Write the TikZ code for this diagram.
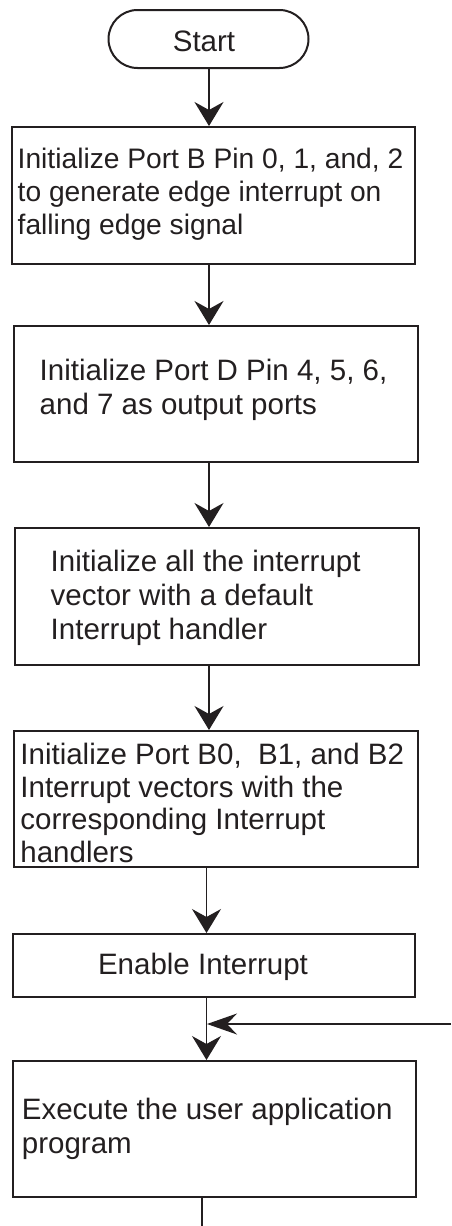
\documentclass[tikz,border=0pt]{standalone}
\usepackage{fontspec}
\setmainfont{Liberation Sans}
\usetikzlibrary{arrows.meta,calc}
\definecolor{ink}{HTML}{231F20}
\begin{document}
\begin{tikzpicture}[x=1pt,y=-1pt,
  box/.style={draw=ink,line width=2pt,rectangle,inner sep=0pt},
  term/.style={draw=ink,line width=2pt,rectangle,rounded corners=29pt,inner sep=0pt},
  txt/.style={inner sep=0pt,align=left,anchor=west,text=ink,font=\fontsize{29.5}{34}\selectfont},
  flow/.style={draw=ink,line width=1.5pt,-{Stealth[length=24pt,width=29pt,inset=8pt]}},
  flowh/.style={draw=ink,line width=1.5pt,-{Stealth[length=30pt,width=21pt,inset=10pt]}},
  plain/.style={draw=ink,line width=1.5pt}]
\useasboundingbox (0,0) rectangle (451,1226);

% shapes
\node[term,minimum width=200pt,minimum height=58pt] (start) at (208.5,39) {};
\node[txt,anchor=center] (tstart) at (204,41) {Start};

\node[box,minimum width=403pt,minimum height=137pt] (b1) at (213.5,195.5) {};
\node[txt,font=\fontsize{28.2}{33}\selectfont] (t1) at (17.5,194)
  {Initialize Port B Pin 0, 1, and, 2\\to generate edge interrupt on\\falling edge signal};

\node[box,minimum width=404pt,minimum height=136pt] (b2) at (216,394) {};
\node[txt] (t2) at (39.5,390)
  {Initialize Port D Pin 4, 5, 6,\\and 7 as output ports};

\node[box,minimum width=404pt,minimum height=137pt] (b3) at (217,596.5) {};
\node[txt] (t3) at (50.5,598)
  {Initialize all the interrupt\\vector with a default\\Interrupt handler};

\node[box,minimum width=404pt,minimum height=136pt] (b4) at (216,799) {};
\node[txt,font=\fontsize{29.5}{32.7}\selectfont] (t4) at (20.2,803)
  {Initialize Port B0,\ \ B1, and B2\\Interrupt vectors with the\\corresponding Interrupt\\handlers};

\node[box,minimum width=402pt,minimum height=63pt] (b5) at (214,965.5) {};
\node[txt,anchor=center] (t5) at (203,967) {Enable Interrupt};

\node[box,minimum width=403pt,minimum height=136pt] (b6) at (214.5,1129) {};
\node[txt] (t6) at (21.7,1129)
  {Execute the user application\\program};

% connector coordinates
\coordinate (xa) at (209,0);
\coordinate (xb) at (206.5,0);
\coordinate (loop) at (451,1024);
\coordinate (merge) at (207,1024);
\coordinate (exit) at (202,1226);

% connectors
\draw[flow] (start.south -| xa) -- (b1.north -| xa);
\draw[flow] (b1.south -| xa) -- (b2.north -| xa);
\draw[flow] (b2.south -| xa) -- (b3.north -| xa);
\draw[flow] (b3.south -| xa) -- (b4.north -| xa);
\draw[flow] (b4.south -| xb) -- (b5.north -| xb);
\draw[flow] (b5.south -| xb) -- (b6.north -| xb);
\draw[flowh] (loop) -- (merge);
\draw[plain] (b6.south -| exit) -- (exit);
\end{tikzpicture}
\end{document}
